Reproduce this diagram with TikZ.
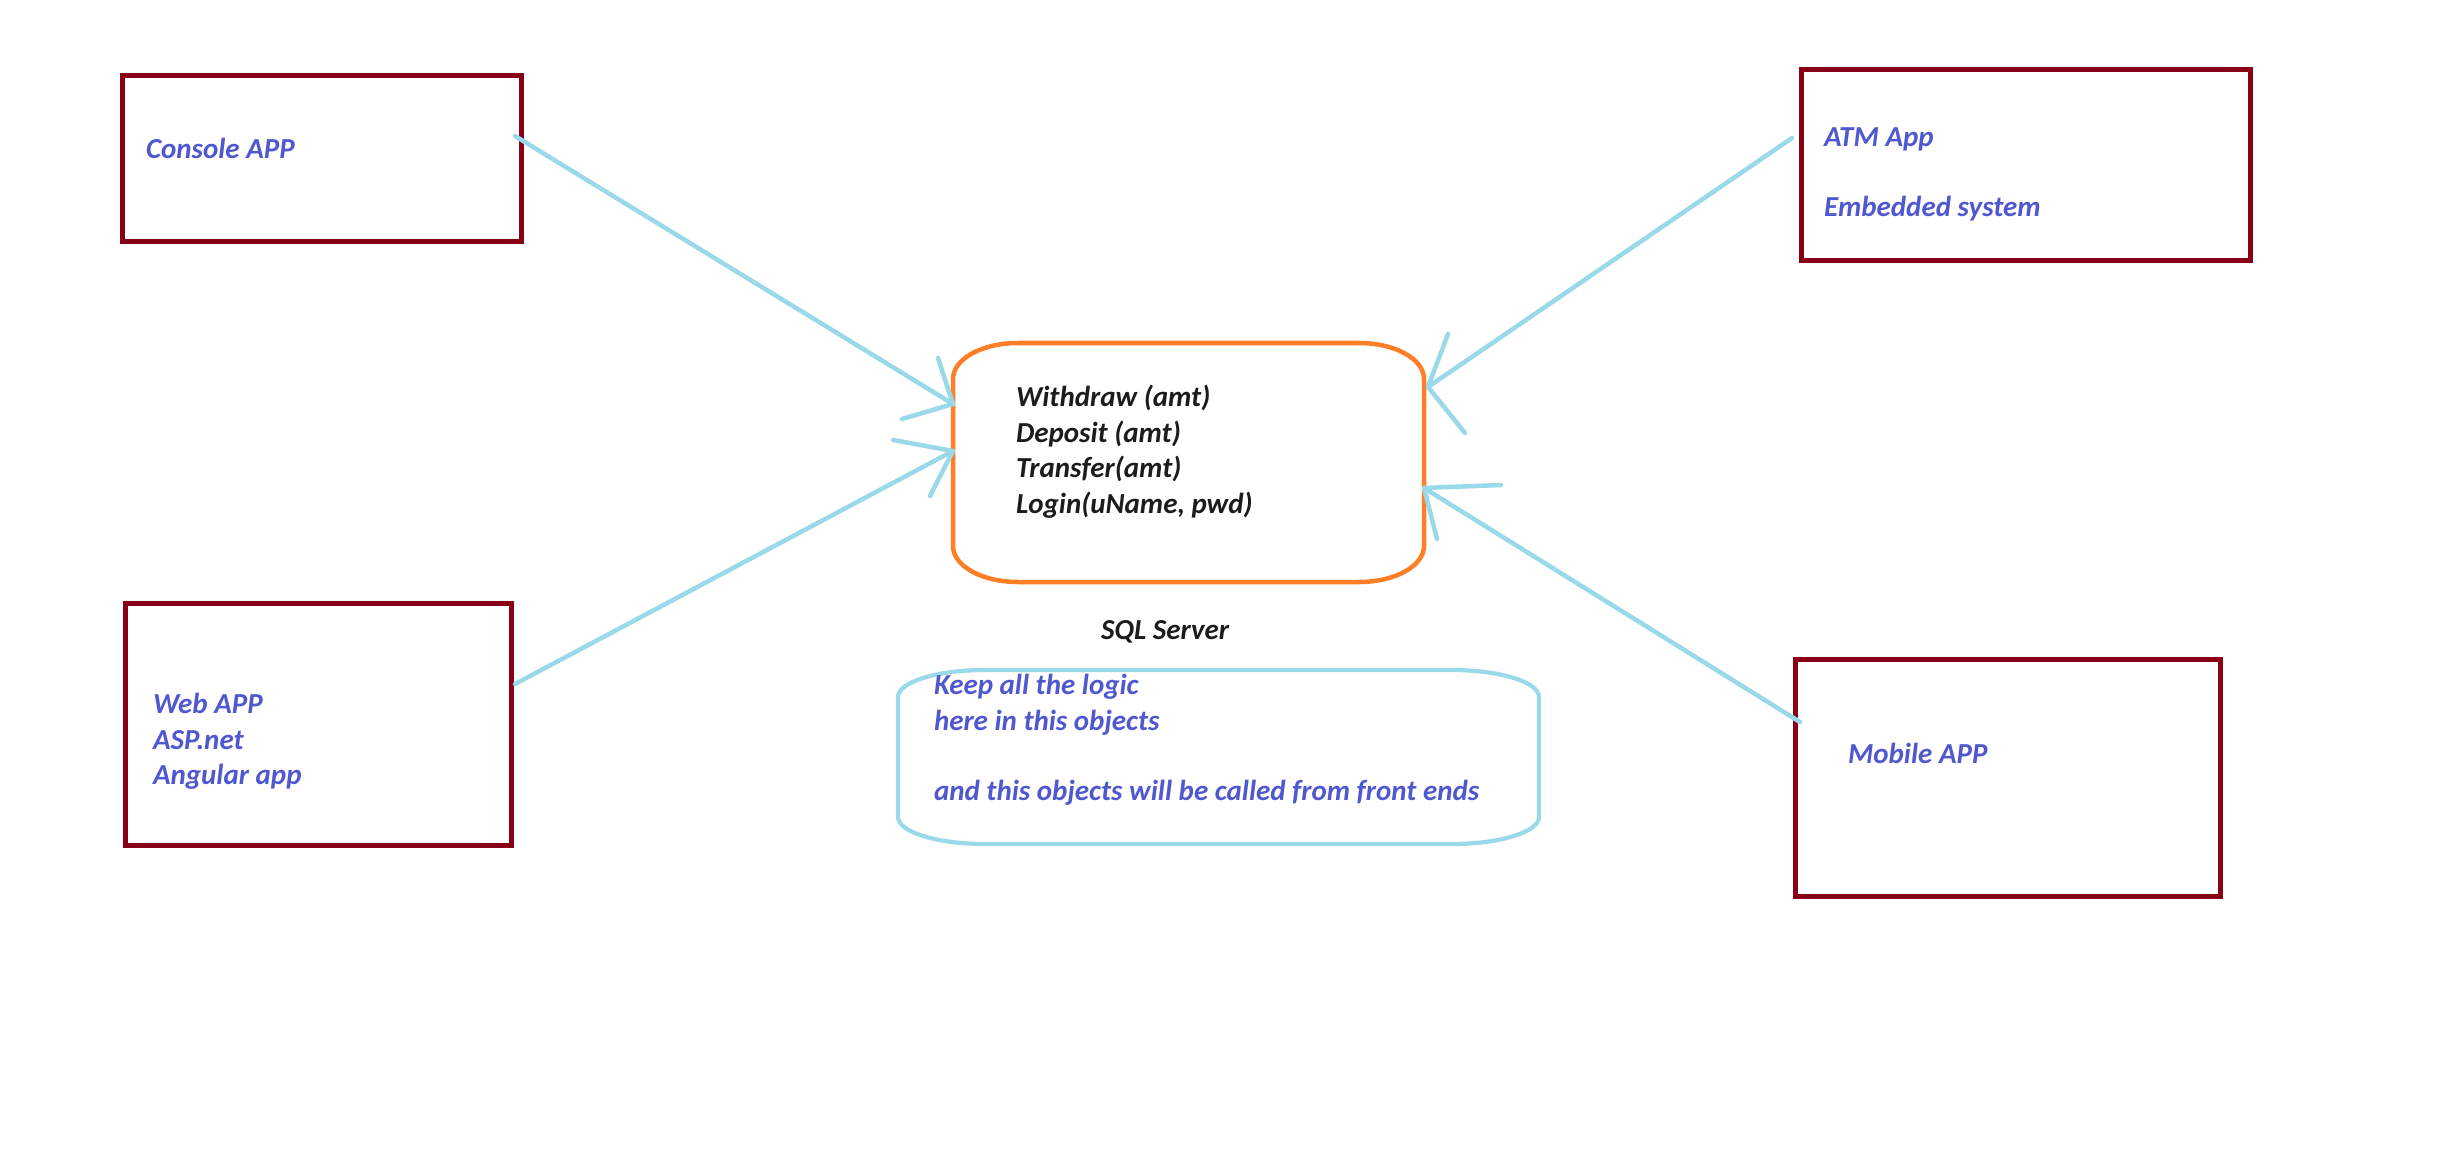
\documentclass[tikz,border=0pt]{standalone}
\usepackage{fontspec}
\setmainfont{Carlito}
\definecolor{boxred}{RGB}{136,0,21}
\definecolor{srvorange}{RGB}{255,127,39}
\definecolor{cyanline}{RGB}{153,217,234}
\definecolor{bluetext}{RGB}{80,88,208}
\definecolor{darktext}{RGB}{28,28,28}
\begin{document}
\begin{tikzpicture}[x=1pt,y=-1pt,
  appbox/.style={draw=boxred,line width=4.7pt,inner sep=0pt,outer sep=0pt},
  txt/.style={anchor=base west,inner sep=0pt,outer sep=0pt,font=\fontsize{29}{36}\selectfont\bfseries\itshape},
  bluetxt/.style={txt,text=bluetext},
  darktxt/.style={txt,text=darktext},
  link/.style={draw=cyanline,line width=4.5pt,line cap=round,line join=round},
  srvline/.style={draw=srvorange,line width=4.5pt,line join=round},
  noteline/.style={draw=cyanline,line width=4.2pt,line join=round}]
\path[fill=white,use as bounding box] (0,0) rectangle (2458,1158);

% application boxes
\node[appbox,minimum width=399pt,minimum height=166pt] (console) at (322,158.5) {};
\node[appbox,minimum width=449pt,minimum height=191pt] (atm) at (2026,165) {};
\node[appbox,minimum width=386pt,minimum height=242pt] (web) at (318.5,724.5) {};
\node[appbox,minimum width=425pt,minimum height=237pt] (mobile) at (2008,778) {};

% server (orange) and note (cyan) shapes
\node[minimum width=471pt,minimum height=239pt,inner sep=0pt] (server) at (1188.5,462.5) {};
\draw[srvline] (1018,343) -- (1359,343)
  .. controls (1395,343) and (1424,359) .. (1424,379) -- (1424,546)
  .. controls (1424,566) and (1395,582) .. (1359,582) -- (1018,582)
  .. controls (982,582) and (953,566) .. (953,546) -- (953,379)
  .. controls (953,359) and (982,343) .. (1018,343) -- cycle;

\node[minimum width=641pt,minimum height=174pt,inner sep=0pt] (note) at (1218.5,757) {};
\draw[noteline] (985,670) -- (1452,670)
  .. controls (1500,670) and (1539,682) .. (1539,697) -- (1539,817)
  .. controls (1539,832) and (1500,844) .. (1452,844) -- (985,844)
  .. controls (937,844) and (898,832) .. (898,817) -- (898,697)
  .. controls (898,682) and (937,670) .. (985,670) -- cycle;

% texts
\node[bluetxt] (tconsole) at (146,159) {Console APP};
\node[bluetxt] (tatm1) at (1824,147) {ATM App};
\node[bluetxt] (tatm2) at (1824,217) {Embedded system};
\node[bluetxt] (tweb1) at (153,713) {Web APP};
\node[bluetxt] (tweb2) at (153,749) {ASP.net};
\node[bluetxt] (tweb3) at (153,784) {Angular app};
\node[bluetxt] (tmobile) at (1848,763) {Mobile APP};

\node[darktxt] (m1) at (1016,406) {Withdraw (amt)};
\node[darktxt] (m2) at (1016,442) {Deposit (amt)};
\node[darktxt] (m3) at (1016,477) {Transfer(amt)};
\node[darktxt] (m4) at (1016,513) {Login(uName, pwd)};

\node[darktxt] (sql) at (1101,639) {SQL Server};

\node[bluetxt] (n1) at (934,694) {Keep all the logic};
\node[bluetxt] (n2) at (934,730) {here in this objects};
\node[bluetxt] (n3) at (934,800) {and this objects will be called from front ends};

% connector end points
\coordinate (s1) at (515,136);  \coordinate (t1) at (953,404);
\coordinate (b1a) at (938,358); \coordinate (b1b) at (902,419);
\coordinate (s2) at (515,684);  \coordinate (t2) at (953,451);
\coordinate (b2a) at (893,440); \coordinate (b2b) at (930,496);
\coordinate (s3) at (1792,138); \coordinate (t3) at (1428,387);
\coordinate (b3a) at (1448,334); \coordinate (b3b) at (1465,433);
\coordinate (s4) at (1800,722); \coordinate (t4) at (1424,488);
\coordinate (b4a) at (1501,485); \coordinate (b4b) at (1437,539);

\draw[link] (s1) -- (t1);
\draw[link] (b1a) -- (t1) -- (b1b);
\draw[link] (s2) -- (t2);
\draw[link] (b2a) -- (t2) -- (b2b);
\draw[link] (s3) -- (t3);
\draw[link] (b3a) -- (t3) -- (b3b);
\draw[link] (s4) -- (t4);
\draw[link] (b4a) -- (t4) -- (b4b);
\end{tikzpicture}
\end{document}
